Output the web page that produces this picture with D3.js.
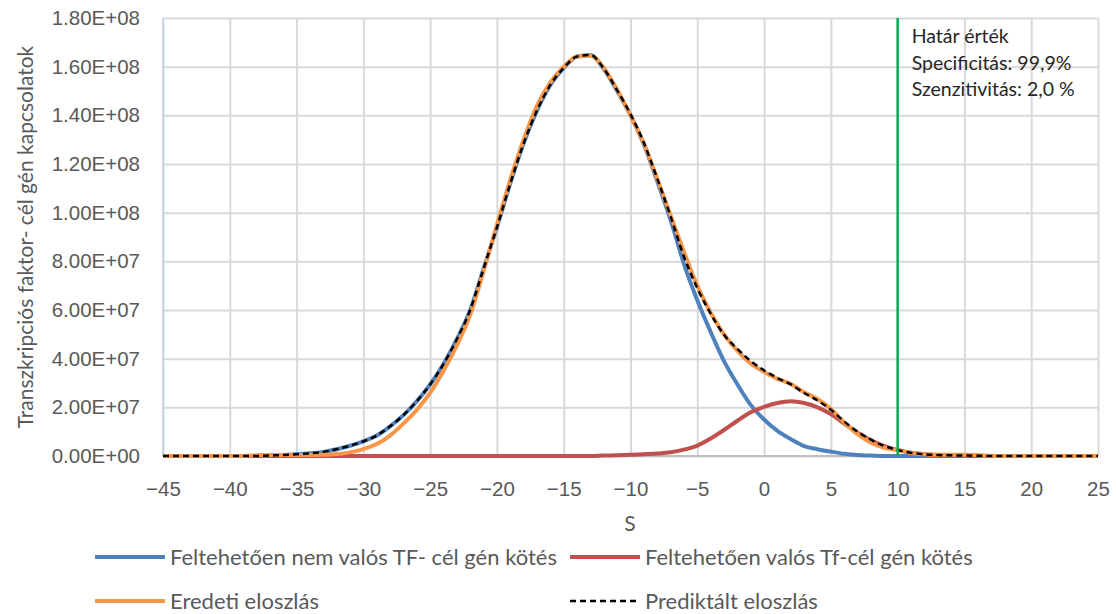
<!DOCTYPE html>
<html>
<head>
<meta charset="utf-8">
<script src="https://cdn.jsdelivr.net/npm/d3@7"></script>
<style>
  body { margin: 0; background: #fff; }
  svg { font-family: Lato, "Open Sans", sans-serif; }
</style>
</head>
<body>
<svg id="chart" width="1116" height="614"></svg>
<script>
// S values, -45 .. 25
var sValues = d3.range(-45, 26);

// Feltehetően nem valós TF- cél gén kötés
var nemValos = [
  0, 0, 0, 0, 0, 0, 0, 0, 2e5, 4e5,
  7e5, 1.1e6, 1.7e6, 2.8e6, 4.2e6, 6.0e6, 8.4e6, 1.22e7, 1.68e7, 2.25e7,
  2.94e7, 3.78e7, 4.8e7, 6.0e7, 7.7e7, 9.4e7, 1.12e8, 1.285e8, 1.42e8, 1.525e8,
  1.595e8, 1.642e8, 1.648e8, 1.59e8, 1.5e8, 1.4e8, 1.28e8, 1.13e8, 9.7e7, 7.9e7,
  6.4e7, 5.1e7, 3.9e7, 2.95e7, 2.1e7, 1.5e7, 1.03e7, 6.9e6, 4.1e6, 2.8e6,
  1.8e6, 9e5, 4e5, 2e5, 0, 0, 0, 0, 0, 0,
  0, 0, 0, 0, 0, 0, 0, 0, 0, 0,
  0
];

// Feltehetően valós Tf-cél gén kötés
var valos = [
  0, 0, 0, 0, 0, 0, 0, 0, 0, 0,
  0, 0, 0, 0, 0, 0, 0, 0, 0, 0,
  0, 0, 0, 0, 0, 0, 0, 0, 0, 0,
  0, 0, 0, 2e5, 3e5, 5e5, 7e5, 1.0e6, 1.5e6, 2.6e6,
  4.3e6, 7.2e6, 1.07e7, 1.45e7, 1.8e7, 2.02e7, 2.18e7, 2.25e7, 2.18e7, 2.0e7,
  1.72e7, 1.33e7, 9.6e6, 6.5e6, 4.1e6, 2.5e6, 1.3e6, 7e5, 4e5, 3e5,
  2e5, 0, 0, 0, 0, 0, 0, 0, 0, 0,
  0
];

// Eredeti eloszlás
var eredeti = [
  0, 0, 0, 0, 0, 0, 0, 3e5, 4e5, 4e5,
  4e5, 4e5, 5e5, 8e5, 1.5e6, 2.8e6, 4.9e6, 8.4e6, 1.33e7, 1.89e7,
  2.59e7, 3.5e7, 4.55e7, 5.8e7, 7.6e7, 9.5e7, 1.135e8, 1.3e8, 1.44e8, 1.535e8,
  1.6e8, 1.642e8, 1.645e8, 1.595e8, 1.505e8, 1.4e8, 1.285e8, 1.14e8, 9.9e7, 8.4e7,
  7.0e7, 5.9e7, 5.0e7, 4.33e7, 3.8e7, 3.45e7, 3.17e7, 2.96e7, 2.62e7, 2.34e7,
  1.93e7, 1.38e7, 9.0e6, 5.5e6, 3.4e6, 2.4e6, 1.2e6, 7e5, 5e5, 5e5,
  5e5, 4e5, 0, 0, 0, 0, 0, 0, 0, 0,
  0
];

// Prediktált eloszlás
var prediktalt = [
  0, 0, 0, 0, 0, 0, 0, 0, 2e5, 4e5,
  7e5, 1.1e6, 1.7e6, 2.8e6, 4.2e6, 6.0e6, 8.4e6, 1.22e7, 1.68e7, 2.25e7,
  2.94e7, 3.78e7, 4.8e7, 6.0e7, 7.7e7, 9.4e7, 1.12e8, 1.285e8, 1.42e8, 1.525e8,
  1.595e8, 1.642e8, 1.648e8, 1.592e8, 1.503e8, 1.405e8, 1.287e8, 1.14e8, 9.85e7, 8.2e7,
  6.9e7, 5.85e7, 4.98e7, 4.4e7, 3.9e7, 3.52e7, 3.21e7, 2.94e7, 2.59e7, 2.28e7,
  1.9e7, 1.42e7, 1.0e7, 6.7e6, 4.1e6, 2.5e6, 1.3e6, 7e5, 4e5, 3e5,
  2e5, 1e5, 0, 0, 0, 0, 0, 0, 0, 0,
  0
];

var xTicks = d3.range(-45, 26, 5);
var yTicks = d3.range(0, 1.8e8 + 1, 2e7);
var hatar = 10;
var annotation = ["Határ érték", "Specificitás: 99,9%", "Szenzitivitás: 2,0 %"];

var series = [
  {name: "Feltehetően nem valós TF- cél gén kötés", values: nemValos, color: "#4f81bd", dash: null},
  {name: "Feltehetően valós Tf-cél gén kötés", values: valos, color: "#c0504d", dash: null},
  {name: "Eredeti eloszlás", values: eredeti, color: "#f79646", dash: null},
  {name: "Prediktált eloszlás", values: prediktalt, color: "#000000", dash: "6,4"}
];

function sciFormat(v) {
  var parts = v.toExponential(2).split("e");
  var exp = parseInt(parts[1], 10);
  var sign = exp < 0 ? "-" : "+";
  var e = Math.abs(exp);
  return parts[0] + "E" + sign + (e < 10 ? "0" + e : e);
}

var svg = d3.select("#chart");
var margin = {top: 18, left: 163, right: 18, bottom: 158};
var width = 1116 - margin.left - margin.right;
var height = 614 - margin.top - margin.bottom;

var x = d3.scaleLinear().domain([-45, 25]).range([0, width]);
var y = d3.scaleLinear().domain([0, 1.8e8]).range([height, 0]);

var canvas = svg.append("g")
  .attr("transform", "translate(" + margin.left + "," + margin.top + ")");

// gridlines + y labels
var gy = canvas.append("g")
  .call(d3.axisLeft(y).tickValues(yTicks).tickFormat(sciFormat)
    .tickSizeInner(-width).tickSizeOuter(0).tickPadding(23));
gy.select(".domain").remove();
gy.selectAll("line").attr("stroke", "#d9d9d9").attr("stroke-width", 2);
gy.selectAll("text").attr("fill", "#595959").style("font-size", "20.5px");

var gx = canvas.append("g")
  .attr("transform", "translate(0," + height + ")")
  .call(d3.axisBottom(x).tickValues(xTicks)
    .tickSizeInner(-height).tickSizeOuter(0).tickPadding(25));
gx.select(".domain").remove();
gx.selectAll("line").attr("stroke", "#d9d9d9").attr("stroke-width", 2);
gx.selectAll("text").attr("fill", "#595959").style("font-size", "20.5px");

// left edge line
canvas.append("line")
  .attr("x1", 0).attr("x2", 0).attr("y1", 0).attr("y2", height)
  .attr("stroke", "#c9d7ea").attr("stroke-width", 2);

// baseline
canvas.append("line")
  .attr("x1", 0).attr("x2", width).attr("y1", height).attr("y2", height)
  .attr("stroke", "#bfbfbf").attr("stroke-width", 2);

var line = d3.line()
  .x(function(d, i) { return x(sValues[i]); })
  .y(function(d) { return y(d); })
  .curve(d3.curveMonotoneX);

series.forEach(function(s) {
  canvas.append("path")
    .datum(s.values)
    .attr("d", line)
    .attr("fill", "none")
    .attr("stroke", s.color)
    .attr("stroke-width", s.dash ? 2.5 : 4)
    .attr("stroke-dasharray", s.dash)
    .attr("stroke-linejoin", "round");
});

// threshold line
canvas.append("line")
  .attr("x1", x(hatar)).attr("x2", x(hatar))
  .attr("y1", 0).attr("y2", height)
  .attr("stroke", "#00b050").attr("stroke-width", 2.5);

canvas.selectAll(".note").data(annotation).enter().append("text")
  .attr("x", x(hatar) + 14)
  .attr("y", function(d, i) { return 25 + i * 26.5; })
  .attr("fill", "#262626")
  .style("font-size", "19.5px")
  .text(function(d) { return d; });

// axis titles
svg.append("text")
  .attr("transform", "translate(33," + (margin.top + height / 2) + ") rotate(-90)")
  .attr("text-anchor", "middle")
  .attr("fill", "#595959")
  .style("font-size", "21px")
  .text("Transzkripciós faktor- cél gén  kapcsolatok");

svg.append("text")
  .attr("x", 630).attr("y", 531)
  .attr("text-anchor", "middle")
  .attr("fill", "#595959")
  .style("font-size", "21px")
  .text("S");

// legend
var legendPos = [
  {x: 95, y: 557}, {x: 570, y: 557}, {x: 95, y: 601}, {x: 570, y: 601}
];
series.forEach(function(s, i) {
  var p = legendPos[i];
  svg.append("line")
    .attr("x1", p.x).attr("x2", p.x + 70)
    .attr("y1", p.y).attr("y2", p.y)
    .attr("stroke", s.color)
    .attr("stroke-width", s.dash ? 2.5 : 4)
    .attr("stroke-dasharray", s.dash);
  svg.append("text")
    .attr("x", p.x + 75).attr("y", p.y + 7.5)
    .attr("fill", "#595959")
    .style("font-size", "22px")
    .text(s.name);
});
</script>
</body>
</html>
